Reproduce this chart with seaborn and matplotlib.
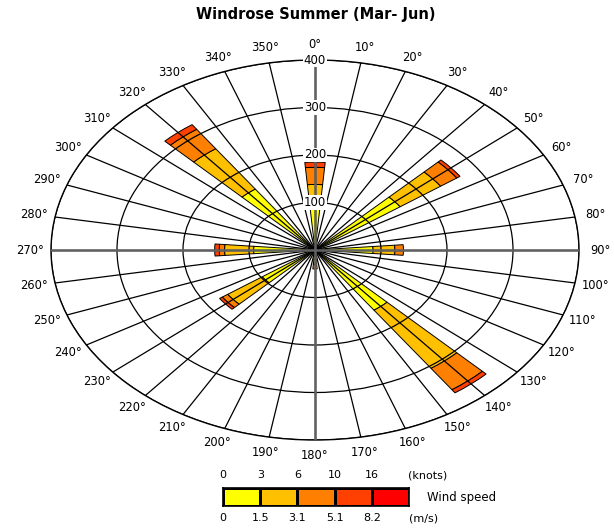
import numpy as np
import matplotlib
matplotlib.use("Agg")
import matplotlib.pyplot as plt
import seaborn as sns
from matplotlib.colors import ListedColormap

# wind directions (deg) and frequency per speed bin (stacked)
directions = [0, 50, 90, 140, 180, 230, 270, 320]
speed_0_15 = [102, 158, 88, 155, 20, 98, 93, 157]
speed_15_31 = [36, 75, 33, 150, 10, 64, 44, 104]
speed_31_51 = [36, 30, 13, 55, 10, 10, 8, 50]
speed_51_82 = [11, 6, 0, 8, 0, 5, 7, 12]

bin_colors = ['#FFFF00', '#FFC000', '#FF8000', '#FF4000', '#FF0000']
knots_labels = ['0', '3', '6', '10', '16']
ms_labels = ['0', '1.5', '3.1', '5.1', '8.2']
ring_values = [100, 200, 300, 400]
angle_ticks = list(range(0, 360, 10))
angle_labels = [f'{a}°' for a in angle_ticks]

sns.set_style("white")
plt.rcParams['font.family'] = ['DejaVu Sans']
plt.rcParams['text.color'] = 'black'

fig = plt.figure(figsize=(6.14, 5.28), dpi=100)
ax = fig.add_axes([51 / 614, 88 / 528, 528 / 614, 380 / 528], projection='polar')
ax.set_aspect('auto')
ax.set_theta_zero_location('N')
ax.set_theta_direction(-1)

theta = np.radians(directions)
width = np.radians(9.6)
bottom = np.zeros(len(directions))
for vals, col in zip([speed_0_15, speed_15_31, speed_31_51, speed_51_82], bin_colors):
    vals = np.array(vals, dtype=float)
    m = vals > 0
    ax.bar(theta[m], vals[m], width=width, bottom=bottom[m], color=col,
           edgecolor='black', linewidth=0.7, zorder=1)
    bottom += vals

ax.set_ylim(0, 400)
ax.set_xticks(np.radians(angle_ticks))
ax.set_xticklabels([])
ax.set_yticks(ring_values)
ax.set_yticklabels([])
ax.grid(True, color='black', linewidth=0.9)
ax.spines['polar'].set_color('black')
ax.spines['polar'].set_linewidth(1.0)
ax.set_axisbelow(False)

# main N-S / E-W axes
for t in [0, 90, 180, 270]:
    ax.plot([np.radians(t)] * 2, [0, 400], color='#606060', lw=1.8, zorder=2.6)

for a, lab in zip(angle_ticks, angle_labels):
    ax.text(np.radians(a), 432, lab, ha='center', va='center', fontsize=8.3)

for r in ring_values:
    ax.text(0, r, str(r), ha='center', va='center', fontsize=8.5, zorder=4,
            bbox=dict(facecolor='white', edgecolor='none', pad=0.6))

fig.text(316 / 614, 1 - 14 / 528, 'Windrose Summer (Mar- Jun)', ha='center',
         va='center', fontsize=10.5, fontweight='bold')

# speed legend
lax = fig.add_axes([223 / 614, 22 / 528, 186 / 614, 18 / 528])
sns.heatmap(np.arange(5).reshape(1, 5), cmap=ListedColormap(bin_colors), cbar=False,
            linewidths=1, linecolor='black', ax=lax, xticklabels=False, yticklabels=False)
for s in lax.spines.values():
    s.set_visible(True)
    s.set_color('black')
    s.set_linewidth(1.2)
tr = lax.get_xaxis_transform()
for i, (k, ms) in enumerate(zip(knots_labels, ms_labels)):
    lax.text(i, 1.72, k, transform=tr, ha='center', va='center', fontsize=8)
    lax.text(i, -0.67, ms, transform=tr, ha='center', va='center', fontsize=8)
lax.text(5.5, 1.72, '(knots)', transform=tr, ha='center', va='center', fontsize=8)
lax.text(5.38, -0.67, '(m/s)', transform=tr, ha='center', va='center', fontsize=8)
lax.text(6.42, 0.5, 'Wind speed', transform=tr, ha='center', va='center', fontsize=8.5)

fig.savefig('out.png', dpi=100)
